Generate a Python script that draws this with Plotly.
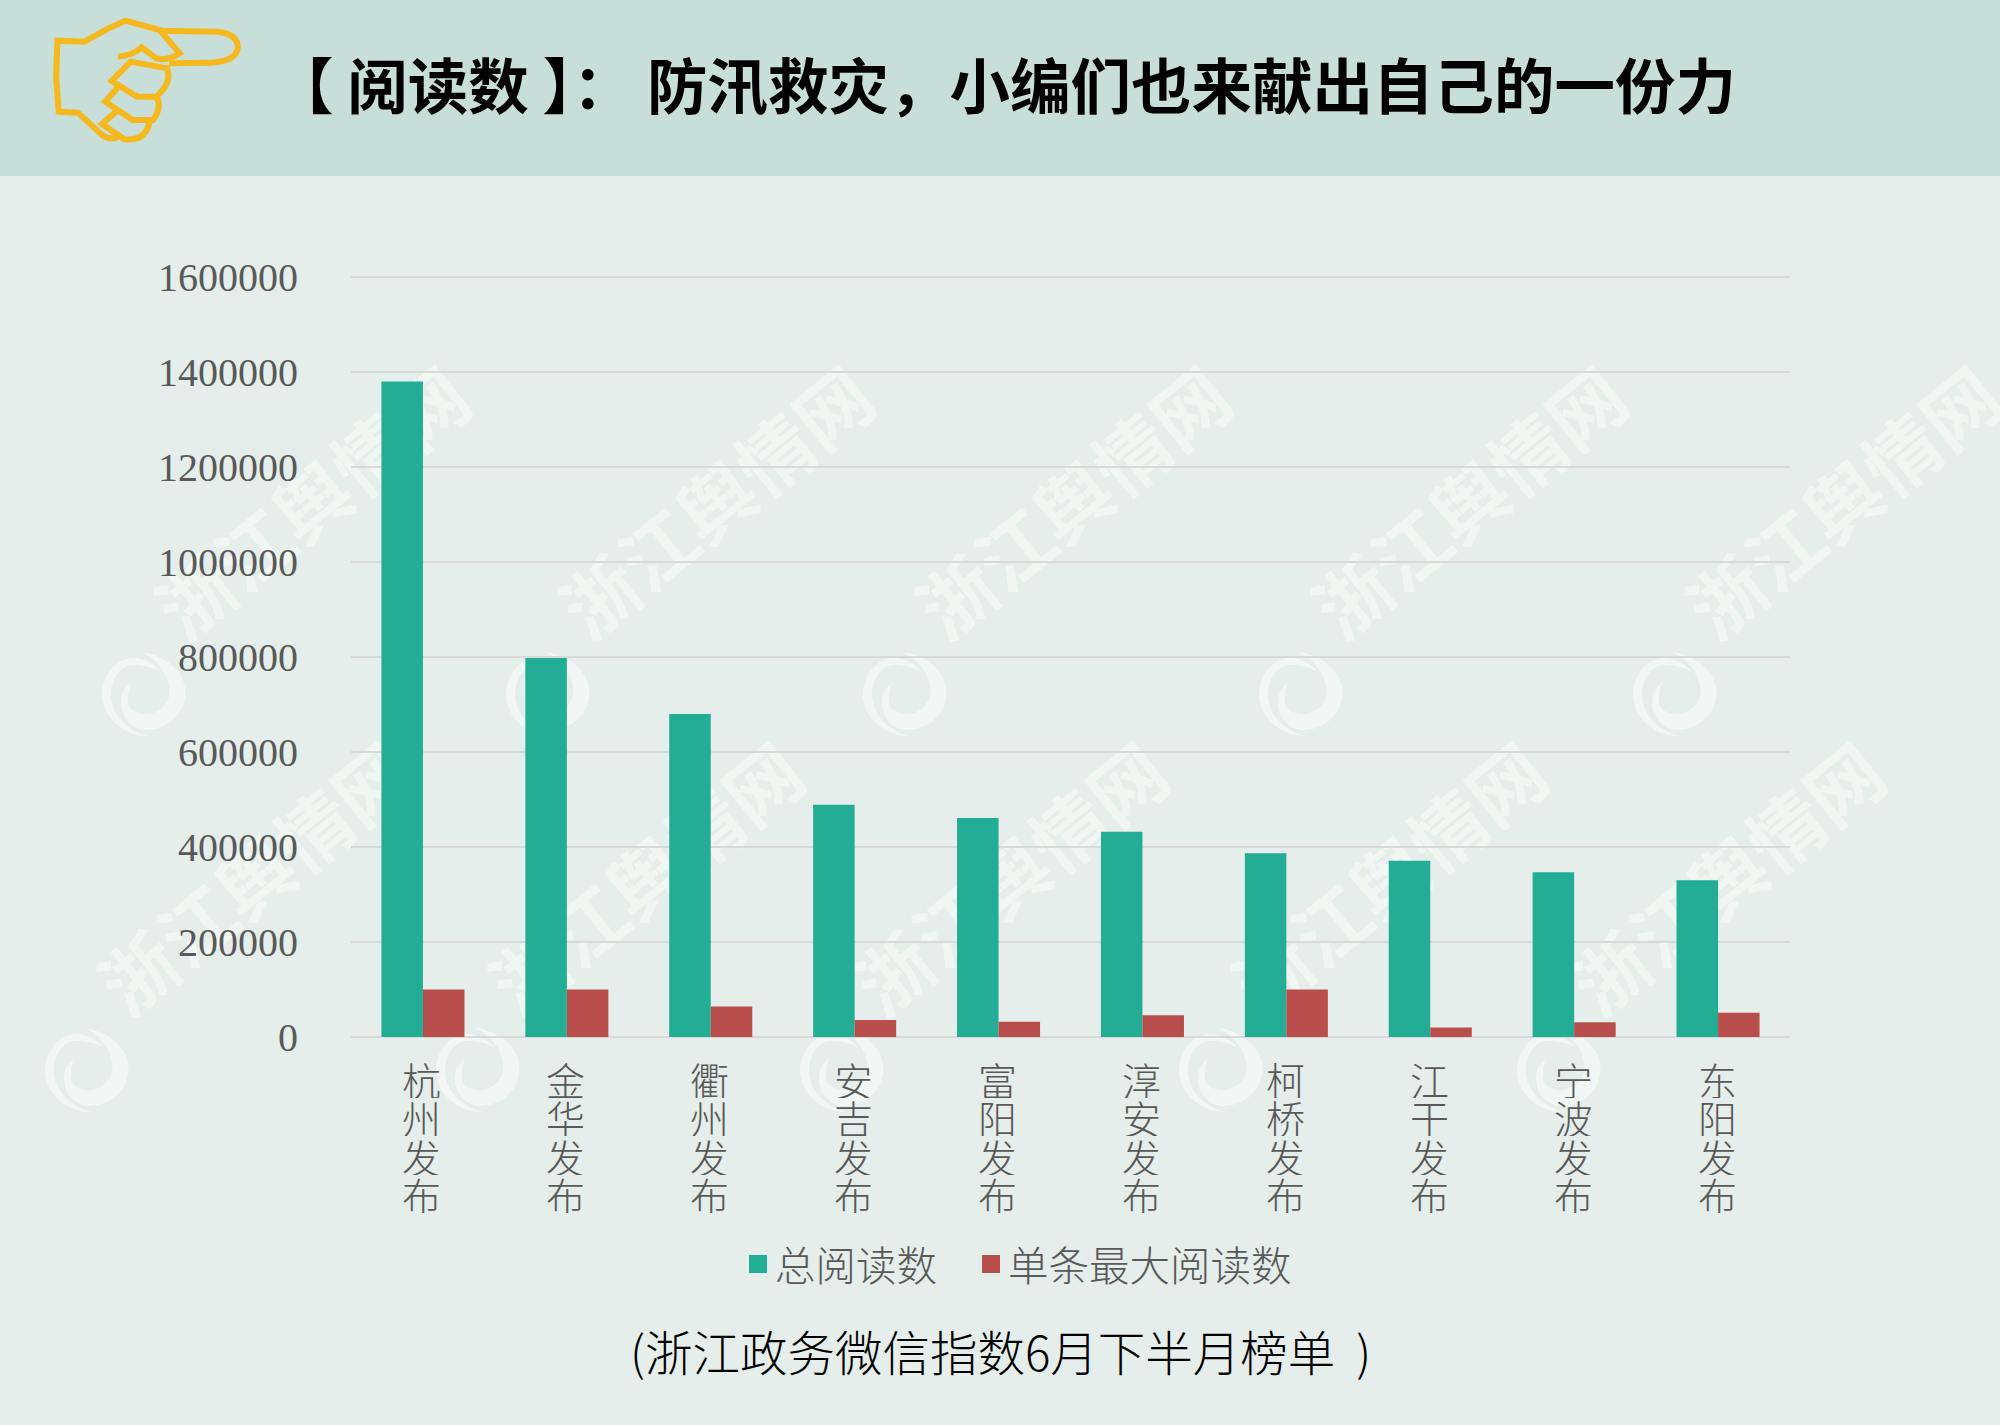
import plotly.graph_objects as go

cities = ["杭州发布", "金华发布", "衢州发布", "安吉发布", "富阳发布",
          "淳安发布", "柯桥发布", "江干发布", "宁波发布", "东阳发布"]
total_reads = [1380000, 798000, 680000, 489000, 461000, 432000, 387000, 371000, 347000, 330000]
max_reads = [100000, 100000, 64000, 36000, 32000, 46000, 100000, 20000, 31000, 51000]
y_ticks = [0, 200000, 400000, 600000, 800000, 1000000, 1200000, 1400000, 1600000]

title_text = "【 阅读数 】： 防汛救灾，小编们也来献出自己的一份力"
caption_text = "(浙江政务微信指数6月下半月榜单  )"
watermark_text = "浙江舆情网"
watermark_logos = [(144, 695), (548, 695), (905, 695), (1301, 695), (1675, 695),
                   (87, 1071), (478, 1071), (842, 1071), (1221, 1071), (1559, 1071)]

WIDTH, HEIGHT = 2000, 1425
LEFT, RIGHT, TOP, BOTTOM = 351, 1790, 275, 1037
GREY = "#595959"
GREEN = "#22ad94"
RED = "#b84f4c"
CJK = "Noto Sans CJK SC"


# page pixels to paper coordinates
def px(x):
    return (x - LEFT) / (RIGHT - LEFT)


def py(y):
    return (BOTTOM - y) / (BOTTOM - TOP)


def page_path(parts):
    out = []
    for p in parts:
        if isinstance(p, str):
            out.append(p)
        else:
            out.append(f"{px(p[0]):.5f},{py(p[1]):.5f}")
    return " ".join(out)


# the hand was measured in the zoomed crop, so scale back
def h(x, y):
    return (x / 1.568, y / 3)


hand_paths = [
    ["M", h(185, 170), "Q", h(210, 165), h(222, 142), "L", h(245, 175), "Q", h(262, 185), h(282, 160),
     "L", h(250, 90), "L", h(197, 62), "L", h(170, 85), "L", h(132, 125), "L", h(90, 122),
     "L", h(88, 230), "L", h(92, 335), "L", h(122, 338), "L", h(160, 405), "Q", h(175, 425), h(190, 405)],
    ["M", h(250, 92), "L", h(340, 95), "Q", h(372, 100), h(373, 140), "Q", h(372, 185), h(330, 188), "L", h(265, 190)],
    ["M", h(205, 185), "L", h(262, 205), "Q", h(270, 250), h(245, 290), "L", h(215, 290), "L", h(175, 243), "Z"],
    ["M", h(185, 262), "L", h(165, 305), "L", h(208, 360), "L", h(240, 360), "Q", h(255, 320), h(245, 290)],
    ["M", h(185, 330), "L", h(160, 372), "L", h(195, 418), "Q", h(230, 425), h(235, 360)],
]

# two crescents of the watermark swirl, offsets from its centre
swirl_a = [("M", 5.5, 41), ("C", -20, 42, -42, 22, -42, 0), ("C", -42, -20, -28, -37, -11, -37),
           ("C", 0, -37, 10, -31, 17, -23), ("C", 8, -28, 0, -30, -11, -30),
           ("C", -24, -30, -33, -15, -33, 0), ("C", -33, 20, -15, 37, 5.5, 41)]
swirl_b = [("M", -3, -43), ("C", 20, -40, 41.5, -25, 41.5, -2), ("C", 41.5, 18, 24, 35, 2, 35),
           ("C", -12, 35, -23, 22, -23, 8), ("C", -23, -2, -19, -8, -13, -12),
           ("C", -16, -6, -16, 0, -16, 8), ("C", -16, 14, -8, 19, 2, 19),
           ("C", 15, 19, 25.5, 8, 25.5, -3), ("C", 25.5, -22, 10, -38, -3, -43)]


def swirl_path(segments, lx, ly):
    parts = []
    for seg in segments:
        parts.append(seg[0])
        for i in range(1, len(seg), 2):
            parts.append((lx + seg[i], ly + seg[i + 1]))
    parts.append("Z")
    return page_path(parts)


fig = go.Figure()

fig.add_trace(go.Bar(x=cities, y=total_reads, name="总阅读数", marker_color=GREEN, marker_line_width=0))
fig.add_trace(go.Bar(x=cities, y=max_reads, name="单条最大阅读数", marker_color=RED, marker_line_width=0))

shapes = [
    dict(type="rect", xref="paper", yref="paper", x0=px(0), x1=px(WIDTH), y0=py(0), y1=py(176),
         fillcolor="#c8dfd9", line_width=0, layer="below"),
]

for path in hand_paths:
    shapes.append(dict(type="path", xref="paper", yref="paper", path=page_path(path),
                       line=dict(color="#f5b81e", width=6), layer="above"))

# watermark sits under the bars, so shape labels rather than annotations
for lx, ly in watermark_logos:
    for seg in (swirl_a, swirl_b):
        shapes.append(dict(type="path", xref="paper", yref="paper", path=swirl_path(seg, lx, ly),
                           fillcolor="rgba(255,255,255,0.5)", line_width=0, layer="below"))
    cx, cy = lx + 174, ly - 186
    shapes.append(dict(type="line", xref="paper", yref="paper",
                       x0=px(cx - 60), x1=px(cx + 60), y0=py(cy + 49), y1=py(cy - 49),
                       line=dict(color="rgba(0,0,0,0)", width=0), layer="below",
                       label=dict(text=watermark_text, textposition="middle", textangle=-39,
                                  xanchor="center", yanchor="middle",
                                  font=dict(family=CJK, size=75, color="rgba(255,255,255,0.45)", weight="bold"))))

annotations = [
    dict(text=title_text, xref="paper", yref="paper", x=px(271), y=py(82), xanchor="left", yanchor="middle",
         showarrow=False, font=dict(family=CJK, size=60.5, color="#000000", weight="bold")),
    dict(text=caption_text, xref="paper", yref="paper", x=px(1000), y=py(1350), xanchor="center", yanchor="middle",
         showarrow=False, font=dict(family=CJK, size=47.5, color="#000000", weight=300)),
]

# category labels are stacked tighter than a plotly line break allows
for city in cities:
    for i, ch in enumerate(city):
        annotations.append(dict(text=ch, xref="x", yref="paper", x=city, y=py(1079 + i * 38.3), xshift=-1,
                                xanchor="center", yanchor="middle", showarrow=False, height=38,
                                font=dict(family=CJK, size=39, color=GREY, weight=300)))

# plotly's own legend has a fixed small swatch and wide gaps, so it is laid out by hand
for name, color, x0 in [("总阅读数", GREEN, 749), ("单条最大阅读数", RED, 982)]:
    shapes.append(dict(type="rect", xref="paper", yref="paper", x0=px(x0), x1=px(x0 + 18),
                       y0=py(1255), y1=py(1273), fillcolor=color, line_width=0))
    annotations.append(dict(text=name, xref="paper", yref="paper", x=px(x0 + 24), y=py(1263),
                            xanchor="left", yanchor="middle", showarrow=False,
                            font=dict(family=CJK, size=40.5, color=GREY, weight=300)))

fig.update_layout(
    width=WIDTH,
    height=HEIGHT,
    autosize=False,
    margin=dict(l=LEFT, r=WIDTH - RIGHT, t=TOP, b=HEIGHT - BOTTOM, pad=0),
    paper_bgcolor="#e5eeea",
    plot_bgcolor="rgba(0,0,0,0)",
    barmode="group",
    bargap=0.423,
    bargroupgap=0,
    shapes=shapes,
    annotations=annotations,
    showlegend=False,
    xaxis=dict(type="category", showticklabels=False, showgrid=False, zeroline=False, ticks="",
               showline=False, range=[-0.5, 9.5]),
    # a little headroom: plotly drops a gridline that sits on the very end of the range
    yaxis=dict(range=[0, 1604000], tickvals=y_ticks, ticktext=[str(v) for v in y_ticks],
               showgrid=True, gridcolor="#d9d9d9", gridwidth=2, zeroline=True, zerolinecolor="#d9d9d9",
               zerolinewidth=2, showline=False, ticks="", ticklabelstandoff=52,
               tickfont=dict(family="Liberation Serif", size=40, color=GREY)),
)

fig.write_html("out.html", config={"displayModeBar": False},
               post_script="document.body.style.margin = '0';")
